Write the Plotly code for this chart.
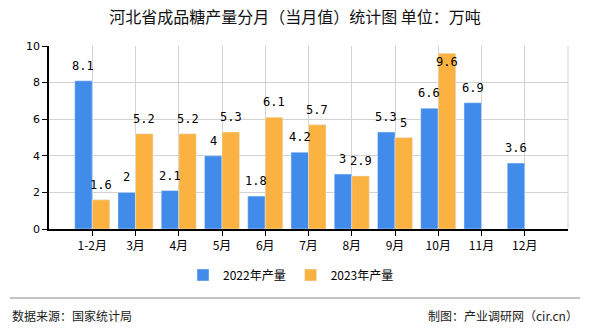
import plotly.graph_objects as go

categories = ["1-2月", "3月", "4月", "5月", "6月", "7月", "8月", "9月", "10月", "11月", "12月"]
values_2022 = [8.1, 2, 2.1, 4, 1.8, 4.2, 3, 5.3, 6.6, 6.9, 3.6]
values_2023 = [1.6, 5.2, 5.2, 5.3, 6.1, 5.7, 2.9, 5, 9.6, None, None]
y_ticks = [0, 2, 4, 6, 8, 10]

BLUE = "#418CEB"
ORANGE = "#FBB241"
FONT = "Noto Sans CJK SC"
Y_MAX = 10

W, H = 590, 330
L, R, T, B = 49, 22, 46, 101
PW, PH = W - L - R, H - T - B
BARGAP = 0.19
OFF = (1 - BARGAP) / 4

def px_x(x):
    return (x - L) / PW

def px_y(y):
    return (H - B - y) / PH

xi = list(range(len(categories)))

fig = go.Figure()
fig.add_trace(go.Bar(x=xi, y=values_2022, name="2022年产量", marker_color=BLUE))
fig.add_trace(go.Bar(x=xi, y=values_2023, name="2023年产量", marker_color=ORANGE))

for series, sign in ((values_2022, -1), (values_2023, 1)):
    for i, v in enumerate(series):
        if v is None:
            continue
        near_top = v > Y_MAX * 0.9
        fig.add_annotation(x=i + sign * OFF, y=v, xref="x", yref="y", text=str(v),
                           showarrow=False,
                           yanchor="top" if near_top else "bottom",
                           yshift=0 if near_top else 6,
                           font=dict(size=12, color="#000", family="DejaVu Sans Mono"))

fig.update_layout(
    width=W, height=H,
    margin=dict(l=L, r=R, t=T, b=B),
    paper_bgcolor="white", plot_bgcolor="white",
    barmode="group", bargap=BARGAP, bargroupgap=0,
    font=dict(family=FONT, size=11, color="#000"),
    title=dict(text="河北省成品糖产量分月（当月值）统计图 单位：万吨",
               x=0.5, xanchor="center", y=1 - 17 / H, yanchor="middle",
               font=dict(size=16, color="#111", family=FONT)),
    legend=dict(orientation="h", x=px_x(291), xanchor="center", y=px_y(275), yanchor="middle",
                font=dict(size=12, family=FONT), itemwidth=30, traceorder="normal"),
)
fig.update_xaxes(
    range=[-1, len(categories)], tickmode="array", tickvals=xi, ticktext=categories,
    showgrid=True, gridcolor="#D3D3D3", gridwidth=1,
    showline=True, linecolor="#000", linewidth=1.5,
    ticks="outside", ticklen=5, tickcolor="#000",
    tickfont=dict(size=12, family=FONT), zeroline=False,
)
fig.update_yaxes(
    range=[0, Y_MAX], tickvals=y_ticks,
    showgrid=True, gridcolor="#D3D3D3", gridwidth=1,
    showline=True, linecolor="#000", linewidth=1.5,
    ticks="outside", ticklen=5, tickcolor="#000",
    tickfont=dict(size=11, family="DejaVu Sans"), zeroline=False,
)
fig.add_shape(type="line", xref="paper", yref="paper", x0=1, x1=1, y0=0, y1=1,
              line=dict(color="#D3D3D3", width=1))
fig.add_shape(type="line", xref="paper", yref="paper", x0=px_x(10), x1=px_x(580),
              y0=px_y(298), y1=px_y(298), line=dict(color="#888", width=1))
fig.add_annotation(text="数据来源：国家统计局", xref="paper", yref="paper",
                   x=px_x(10), y=px_y(315), xanchor="left", yanchor="middle",
                   showarrow=False, font=dict(size=12, color="#222", family=FONT))
fig.add_annotation(text="制图：产业调研网（cir.cn）", xref="paper", yref="paper",
                   x=px_x(580), y=px_y(315), xanchor="right", yanchor="middle",
                   showarrow=False, font=dict(size=12, color="#222", family=FONT))

fig.write_html("out.html")
